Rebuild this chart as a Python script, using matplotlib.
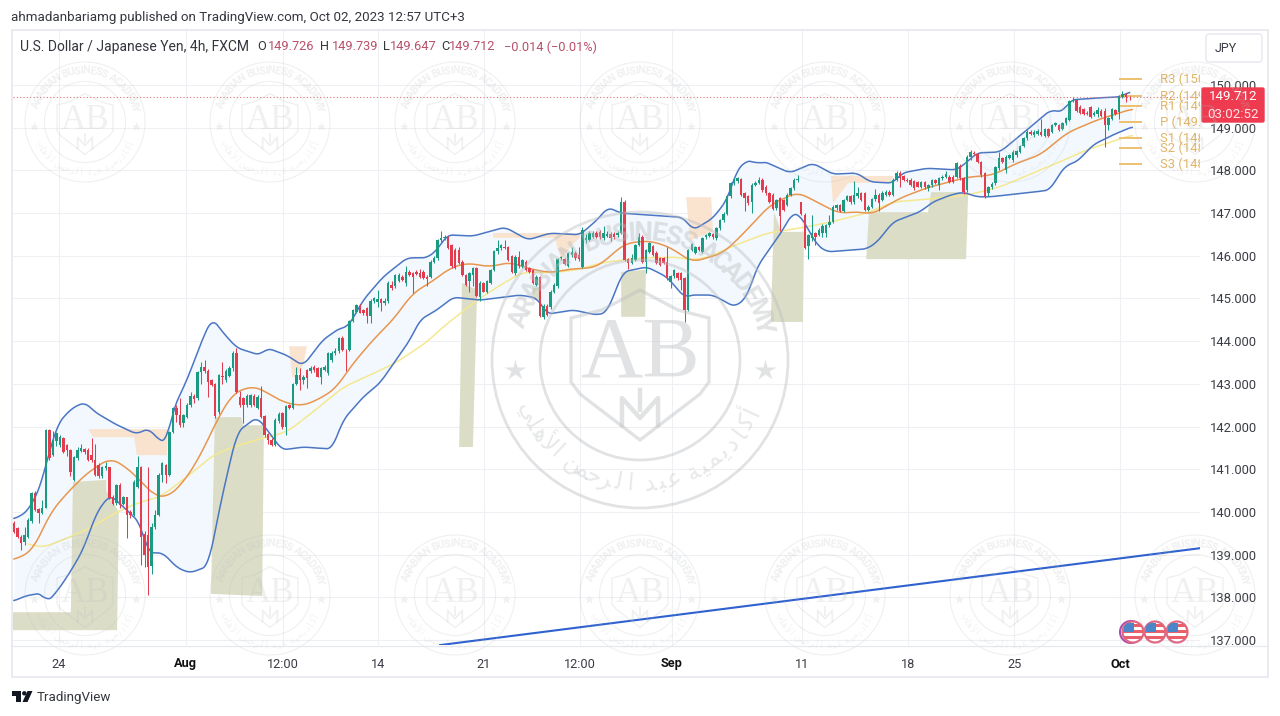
import numpy as np
import matplotlib
matplotlib.use("Agg")
import matplotlib.pyplot as plt
from matplotlib.patches import Circle, Polygon, Rectangle, FancyBboxPatch

plt.rcParams['font.family'] = ['Roboto', 'DejaVu Sans']

# ---------- DATA (bar index on x, USD/JPY price on y); candles are (open, high, low, close) ----------
candles_late_july = [
 (139.73,139.78,139.50,139.54),(139.62,139.65,139.40,139.42),(139.42,139.45,139.11,139.26),(139.30,139.65,139.22,139.46),
 (139.42,139.85,139.38,139.81),(139.78,140.47,139.75,140.45),(140.45,140.48,140.02,140.04),(140.06,140.08,139.73,139.97),
 (139.97,140.28,139.95,140.08),(140.10,141.95,140.08,141.92),(141.92,141.94,141.22,141.26),(141.33,141.90,141.30,141.68),
 (141.65,141.88,141.55,141.84),(141.57,141.80,141.52,141.76),(141.72,141.76,141.38,141.41),(141.57,141.60,141.30,141.45),
 (141.45,141.48,140.85,140.94),(140.75,141.32,140.72,141.29),(141.26,141.53,141.22,141.45),(141.43,141.60,141.40,141.49),
 (141.47,141.50,141.35,141.41),(141.45,141.50,141.20,141.22),(141.33,141.72,141.18,141.22),(141.22,141.60,140.85,140.87),
 (141.10,141.15,140.80,140.84),(140.84,141.08,140.80,141.06),(141.02,141.17,140.98,141.07),(141.04,141.06,140.30,140.32),
 (140.36,140.40,140.15,140.19),(140.20,140.66,140.17,140.63),(140.63,140.68,140.10,140.16),(140.19,140.38,140.15,140.34),
 (140.34,140.36,139.38,139.93),(140.00,140.05,139.85,139.93),(139.93,140.74,139.90,140.71),(140.59,141.31,140.55,141.06),
 (141.06,141.08,138.75,139.42),(139.48,139.55,138.72,139.00),(139.46,141.04,138.05,138.72),(138.73,139.75,138.55,139.65),
 (139.65,140.05,139.60,139.93),(139.93,140.90,139.90,140.87),(140.87,141.16,140.70,141.14),(141.10,141.12,140.68,140.87),
 (140.87,141.90,140.85,141.88),(141.88,142.45,141.85,142.43),
]
candles_early_august = [
 (142.43,142.50,142.10,142.27),(142.27,142.66,142.00,142.04),(142.08,142.30,142.00,142.27),(142.23,142.55,142.20,142.50),
 (142.50,142.82,142.45,142.72),(142.72,142.75,142.55,142.64),(142.66,143.30,142.62,143.27),(143.27,143.50,143.00,143.40),
 (143.40,143.55,143.25,143.31),(143.31,143.35,142.70,143.05),(143.09,143.12,142.95,142.98),(142.99,143.02,142.20,142.25),
 (142.33,143.24,142.30,143.21),(143.19,143.50,143.00,143.16),(143.09,143.35,143.05,143.29),(143.19,143.42,143.15,143.37),
 (143.37,143.78,143.30,143.72),(143.72,143.85,142.78,142.82),(142.70,142.83,142.45,142.51),(142.66,142.70,142.08,142.51),
 (142.51,142.75,142.45,142.72),(142.51,142.77,142.45,142.74),(142.72,142.75,142.48,142.51),(142.43,142.73,142.40,142.70),
 (142.66,142.94,142.20,142.23),(142.25,142.27,141.75,141.80),(141.83,141.85,141.60,141.69),(141.69,141.72,141.55,141.57),
 (141.57,142.20,141.55,142.16),(142.12,142.33,142.08,142.30),(142.31,142.34,141.95,141.98),(142.00,142.50,141.80,142.47),
 (142.50,142.52,142.40,142.43),(142.43,143.03,142.40,143.00),(143.00,143.40,142.98,143.21),(143.21,143.37,142.86,143.09),
 (143.09,143.20,143.00,143.15),(143.33,143.35,142.90,143.13),
]
candles_mid_august = [
 (143.29,143.42,143.25,143.37),(143.39,143.43,143.28,143.33),(143.37,143.40,143.15,143.17),(143.17,143.40,143.00,143.37),
 (143.33,143.45,143.30,143.40),(143.25,143.75,143.20,143.72),(143.56,143.76,143.50,143.72),(143.72,143.85,143.68,143.78),
 (143.76,144.10,143.72,144.07),(144.07,144.12,143.78,143.80),(143.78,143.82,143.30,143.76),(143.80,144.50,143.76,144.46),
 (144.46,144.76,144.44,144.73),(144.69,144.88,144.65,144.85),(144.83,144.86,144.65,144.67),(144.73,144.76,144.62,144.65),
 (144.77,144.80,144.43,144.58),(144.58,144.98,144.42,144.95),(144.93,145.04,144.90,145.00),(144.91,145.20,144.80,144.99),
 (144.98,145.00,144.70,144.90),(144.90,145.02,144.85,144.95),(144.93,145.40,144.90,145.36),(145.32,145.40,145.20,145.24),
 (145.28,145.58,145.25,145.55),
 (145.42,145.60,145.38,145.55),(145.51,145.55,145.40,145.43),(145.36,145.75,145.30,145.63),(145.63,145.66,145.52,145.55),
 (145.59,145.62,145.12,145.51),(145.63,145.66,145.55,145.58),(145.59,145.70,145.48,145.51),(145.63,145.66,145.45,145.47),
 (145.51,145.54,145.30,145.45),(145.51,145.89,145.48,145.86),(145.86,146.00,145.83,145.94),(145.94,146.40,145.90,146.37),
 (146.37,146.57,146.32,146.41),(146.41,146.48,146.38,146.45),(146.43,146.46,146.15,146.18),(146.25,146.28,145.72,145.75),
 (146.14,146.18,145.68,145.71),(146.14,146.20,145.80,145.82),(145.86,145.89,145.52,145.55),(145.55,145.58,145.28,145.32),
 (145.40,145.62,145.16,145.59),(145.55,145.74,145.30,145.71),(145.71,145.74,145.03,145.06),(145.04,145.40,144.93,145.36),
 (145.36,145.38,145.14,145.16),(145.16,145.43,145.13,145.40),(145.36,145.70,145.33,145.67),(145.67,146.13,145.64,146.10),
 (146.10,146.37,146.05,146.18),(146.18,146.28,146.14,146.25),(146.21,146.38,146.15,146.18),(146.21,146.24,145.88,145.90),
 (145.99,146.02,145.60,145.63),(145.59,146.01,145.56,145.98),(145.98,146.10,145.72,145.75),(145.75,145.93,145.72,145.90),
 (145.86,145.89,145.64,145.67),(145.71,145.74,145.60,145.63),(145.67,145.70,145.33,145.36),(145.32,145.55,145.28,145.51),
 (145.50,145.53,144.57,144.59),(144.57,144.86,144.52,144.83),(144.83,144.86,144.60,144.62),(144.79,145.19,144.76,145.16),
 (145.16,145.35,145.13,145.32),(145.28,145.95,145.25,145.92),
]
candles_late_august = [
 (145.94,146.00,145.90,145.96),(145.92,145.95,145.78,145.81),(145.76,146.09,145.73,146.06),(146.02,146.20,145.98,146.09),
 (146.06,146.10,145.90,145.94),(146.02,146.20,145.88,145.92),(145.73,146.68,145.72,146.60),(146.37,146.50,146.30,146.41),
 (146.38,146.57,146.35,146.54),(146.45,146.57,146.42,146.54),(146.54,146.57,146.42,146.45),(146.56,146.60,146.40,146.43),
 (146.41,146.70,146.38,146.54),(146.46,146.58,146.43,146.52),(146.52,146.55,146.35,146.41),(146.52,146.55,146.40,146.45),
 (146.49,146.58,146.45,146.54),(146.54,147.38,146.50,147.27),(147.27,147.30,145.87,145.90),(145.92,145.95,145.70,145.84),
 (145.84,146.05,145.80,145.94),(145.90,146.28,145.87,146.25),(146.25,146.53,146.22,146.45),(146.45,146.48,145.83,145.86),
 (145.86,146.16,145.59,146.13),(146.09,146.32,146.06,146.29),(146.23,146.26,146.00,146.02),(146.06,146.10,145.80,145.84),
 (145.94,145.97,145.75,145.78),(145.94,145.98,145.80,145.84),(145.86,146.21,145.44,145.47),(145.39,145.55,145.25,145.52),
 (145.52,145.70,145.49,145.66),(145.59,145.62,145.44,145.47),(145.60,145.63,145.20,145.43),(145.47,145.50,144.45,144.73),
 (144.73,146.16,144.70,146.13),(146.13,146.30,146.10,146.27),(146.06,146.24,146.03,146.21),(146.21,146.24,146.10,146.13),
 (146.09,146.44,146.06,146.41),
]
candles_september = [
 (146.43,146.52,146.40,146.49),(146.47,146.56,146.44,146.53),(146.51,146.54,146.40,146.43),(146.41,146.67,146.38,146.64),
 (146.64,146.87,146.60,146.84),(146.84,147.02,146.80,146.98),(146.98,147.42,146.95,147.39),(147.39,147.73,147.35,147.70),
 (147.70,147.82,147.66,147.78),(147.74,147.85,147.70,147.82),(147.79,147.82,147.40,147.43),(147.48,147.50,147.04,147.35),
 (147.40,147.43,147.20,147.23),(147.27,147.70,147.00,147.66),(147.66,147.75,147.63,147.71),(147.70,147.85,147.67,147.78),
 (147.78,147.81,147.50,147.54),(147.62,147.65,147.43,147.46),(147.46,147.49,147.24,147.27),(147.43,147.46,147.06,147.09),
 (147.11,147.34,147.08,147.31),(147.35,147.38,146.58,146.92),(147.31,147.34,147.04,147.07),(147.19,147.46,147.16,147.43),
 (147.43,147.61,147.40,147.58),(147.58,147.82,147.55,147.78),(147.78,147.88,147.72,147.80),(147.27,147.27,146.95,146.98),
 (146.96,146.99,146.15,146.18),(146.22,146.52,145.92,146.49),(146.41,146.96,146.35,146.53),(146.53,146.56,146.25,146.45),
 (146.49,146.64,146.46,146.61),(146.53,146.74,146.45,146.70),(146.53,146.75,146.45,146.72),(146.72,146.96,146.68,146.80),
 (146.80,147.18,146.77,147.15),(147.11,147.22,147.08,147.19),(147.19,147.22,147.02,147.05),(147.05,147.34,147.02,147.31),
 (147.31,147.42,147.28,147.39),(147.39,147.42,147.22,147.25),(147.25,147.74,147.22,147.43),(147.39,147.60,147.36,147.46),
 (147.46,147.49,147.28,147.31),(147.46,147.49,147.04,147.07),(147.07,147.18,147.04,147.15),(147.15,147.35,147.12,147.32),
 (147.32,147.56,147.29,147.43),(147.43,147.46,147.04,147.23),(147.31,147.51,147.28,147.48),(147.43,147.53,147.40,147.50),
 (147.50,147.53,147.40,147.43),(147.43,147.81,147.40,147.78),(147.78,147.98,147.75,147.95),(147.95,147.98,147.62,147.82),
 (147.86,147.90,147.75,147.78),(147.78,147.82,147.72,147.74),(147.78,147.81,147.63,147.66),(147.74,147.77,147.55,147.58),
 (147.73,147.76,147.60,147.62),(147.62,147.76,147.59,147.73),(147.73,147.76,147.57,147.60),(147.58,147.68,147.52,147.65),
 (147.65,147.80,147.62,147.77),(147.77,147.80,147.67,147.70),(147.65,147.84,147.55,147.81),(147.81,147.90,147.78,147.85),
 (147.85,147.98,147.82,147.91),
]
candles_last_week = [
 (147.85,147.88,147.70,147.73),(147.85,147.88,147.70,147.73),(147.85,148.20,147.82,148.17),(148.10,148.14,147.78,147.81),
 (147.81,147.84,147.45,147.50),(147.54,148.35,147.50,148.32),(148.32,148.47,148.25,148.44),(148.41,148.45,148.35,148.38),
 (148.38,148.41,148.17,148.20),(148.20,148.23,147.85,147.89),(147.93,147.96,147.35,147.37),(147.46,147.63,147.40,147.60),
 (147.60,147.72,147.56,147.68),(147.70,148.10,147.66,148.07),(148.05,148.44,148.00,148.28),(148.28,148.31,148.17,148.20),
 (148.00,148.35,147.95,148.32),(148.30,148.39,148.27,148.36),(148.24,148.47,148.20,148.44),(148.36,148.48,148.32,148.45),
 (148.44,148.60,148.40,148.57),(148.57,148.78,148.54,148.75),(148.75,148.94,148.72,148.91),(148.91,148.94,148.82,148.85),
 (148.83,148.95,148.78,148.91),(148.85,148.97,148.82,148.93),(148.91,149.20,148.80,148.83),(148.80,148.99,148.77,148.96),
 (148.96,148.99,148.77,148.80),(148.91,149.09,148.88,149.06),(149.06,149.14,149.03,149.10),(149.06,149.09,148.92,148.95),
 (148.98,149.13,148.95,149.10),(149.10,149.25,149.07,149.22),(149.18,149.66,149.15,149.63),(149.63,149.73,149.60,149.66),
 (149.65,149.68,149.37,149.40),(149.49,149.52,149.32,149.35),(149.43,149.46,149.29,149.32),(149.35,149.40,149.30,149.33),
 (149.48,149.51,149.23,149.26),(149.30,149.38,149.27,149.35),(149.33,149.48,149.25,149.41),(149.40,149.43,149.24,149.27),
 (149.40,149.45,148.55,149.06),(149.06,149.25,148.95,149.22),(149.20,149.46,149.17,149.43),(149.41,149.44,149.29,149.32),
 (149.37,149.76,149.20,149.73),(149.73,149.85,149.70,149.79),(149.79,149.82,149.60,149.73),(149.726,149.739,149.647,149.712),
]

upper_x = [0,3.7,7.4,9.3,12.5,16.4,20.1,22.9,28.6,34.8,38,41.4,43.3,45,49,53.3,56.1,59.8,63.2,69.7,71.7,77.3,81.9,87.5,92.4,94.6,98.9,104.5,111.3,117,119.8,122.7,130,139.1,145.6,151.8,160.3,165.2,168.3,171.7,189.5,192.4,198,202,204.8,207.1,209.1,210.5,212.2,219.8,226.3,232,238.8,242.5,249,251.6,258.6,267.1,270,272.8,279.3,287,293.5,297.2,299.2,307.6,313.3,316]
upper_y = [139.83,140.0,140.56,141.21,142.08,142.43,142.57,142.34,142.06,141.82,141.96,141.66,141.64,142.39,143.09,144.03,144.54,144.14,143.84,143.67,143.84,143.67,143.42,144.03,144.31,144.33,144.96,145.5,145.95,145.95,146.13,146.49,146.46,146.67,146.37,146.53,146.49,146.84,147.14,147.0,146.9,146.6,146.88,147.31,148.01,148.2,148.24,148.13,148.22,147.94,148.17,147.91,147.94,147.73,147.7,147.94,148.05,148.01,148.2,148.41,148.43,148.95,149.41,149.37,149.65,149.7,149.72,149.84]
lower_x = [0,3.1,7.9,9.3,12.5,15.9,19.5,23.5,27.2,32,35.7,38,42.2,46.2,49.9,55,58.9,63.2,68.8,71.1,75.9,81.9,90.1,93.2,98.9,103.7,112.2,115,119.8,124.4,132,143.3,148.2,151,158.4,165.2,168,172.5,179.3,185,190.1,191.5,198,204.2,207.6,210.5,217.8,220.4,222.7,227.5,230.3,241.6,244.5,249,256.7,260.3,265.2,268.8,272.8,276.5,288.7,293.5,296.3,298.3,301.1,305.7,311.3,316.7]
lower_y = [137.91,138.03,138.1,137.87,138.17,138.59,139.1,140.0,140.4,140.04,139.74,139.04,139.04,138.69,138.57,138.73,140.35,141.87,142.22,141.99,141.45,141.52,141.47,142.15,142.69,143.02,144.03,144.5,144.73,145.03,144.96,145.08,145.01,144.63,144.73,144.61,144.68,145.62,145.74,145.5,145.01,145.08,145.08,144.8,145.03,145.74,146.6,147.0,146.95,146.25,146.09,146.16,146.32,146.79,147.03,147.26,147.42,147.49,147.38,147.38,147.49,147.54,147.94,148.13,148.2,148.6,148.83,149.02]
fast_x = [0,5.4,10.2,15,20.7,27.2,30.9,34.8,39.4,43.3,47.9,52.7,57.5,62,67.7,70.5,76.2,81.9,87.5,91.5,95.2,101.7,107.4,113,117.8,123.5,128.3,134.8,140.5,145.3,151.8,157.5,163.2,166,171.7,173.7,180.2,185.8,192.1,200.8,205.7,214.2,221.8,226.3,233.4,240.5,242.5,251,258.6,270,277.3,284.1,290.7,298.3,306.8,316.7]
fast_y = [138.87,139.1,139.97,140.44,140.91,141.26,141.1,140.82,140.4,140.33,140.68,141.3,142.15,142.78,142.95,142.85,142.57,142.48,142.69,142.92,143.39,144.03,144.5,145.13,145.36,145.71,145.83,145.74,145.85,145.71,145.6,145.69,145.71,145.78,146.2,146.3,146.35,146.2,145.85,146.06,146.44,147.19,147.49,147.31,147.0,147.03,146.95,147.35,147.59,147.84,147.89,148.17,148.36,148.88,149.18,149.44]
slow_x = [4,7.4,13.9,21.5,29.2,35.7,41.4,49,56.4,62,70.5,77.3,84.7,93.2,102.8,108.5,117,121.5,131.2,137.7,144.2,151.8,159.5,166,172.5,177.3,188.7,190.7,196.3,202.8,213.3,222.7,230.3,241.6,249,256.7,270,279.3,288.7,296.3,303.9,316.7]
slow_y = [139.27,139.15,139.34,139.62,140.0,140.23,140.35,140.82,141.33,141.52,141.73,141.87,142.34,142.92,143.28,143.51,143.98,144.33,144.96,145.31,145.62,145.6,145.67,145.83,145.9,145.95,145.97,145.9,145.95,146.2,146.53,146.65,146.77,147.0,147.26,147.31,147.42,147.61,147.94,148.2,148.48,148.83]
trend_x = [120.7, 336.0]
trend_y = [136.88, 139.15]

demand_zones = [
 ([-0.3,16.1,16.7,26.1,26.1,29.7,29.2,-0.3],[137.65,137.65,140.7,140.75,140.5,140.0,137.23,137.23]),
 ([56.9,64.3,64.9,70.8,70.3,55.8],[142.22,142.22,142.03,142.03,138.03,138.08]),
 ([126.9,131.2,130.0,126.1],[145.36,145.2,141.52,141.52]),
 ([172.0,179.0,178.8,172.0],[145.62,145.67,144.57,144.57]),
 ([215.3,217.3,223.8,223.5,214.4],[147.02,146.56,146.56,144.45,144.45]),
 ([241.4,242.2,258.9,259.8,270.3,269.7],[145.92,147.02,147.02,147.49,147.49,145.92]),
 ([146.7,149.0,149.3,147.3],[145.25,145.25,144.96,144.96]),
]
supply_zones = [
 ([21,43.6,43.3,34.8,34,22.4],[141.94,141.94,141.33,141.33,141.75,141.75]),
 ([77.9,83,81.9,79.9,78.8],[143.88,143.88,143.44,143.16,143.16]),
 ([135.7,160.3,160.3,158,155,153.2,135.7],[146.53,146.53,146.42,146.25,145.9,146.42,146.42]),
 ([190.4,197.5,198,191.5],[147.37,147.37,146.56,146.37]),
 ([231.4,249,248.7,236.3,232],[147.87,147.87,147.73,147.7,147.23]),
]
pivot_names = ['R3','R2','R1','P','S1','S2','S3']
pivot_values = [150.14,149.74,149.51,149.13,148.76,148.52,148.15]
pivot_x = [313.3, 319.3]
pivot_label_x = 324.6
last_price = 149.712
price_ticks = [137,138,139,140,141,142,143,144,145,146,147,148,149,150]
time_ticks = [12.75,48.7,76.2,103.1,133.1,160.3,186.4,223.2,253.3,283.3,313.3]
time_labels = ['24','Aug','12:00','14','21','12:00','Sep','11','18','25','Oct']
bold_labels = {'Aug','Sep','Oct'}

candles = (candles_late_july + candles_early_august + candles_mid_august +
           candles_late_august + candles_september + candles_last_week)
opens, highs, lows, closes = (np.array(c) for c in zip(*candles))
bars = np.arange(len(candles))

def rounded(xs, ys, step=0.25, half=6):
    """Dense, softened path through the read values, for drawing only."""
    g = np.arange(xs[0], xs[-1] + step, step)
    v = np.interp(g, xs, ys)
    ker = np.ones(2*half + 1)/(2*half + 1)
    v = np.convolve(np.pad(v, half, mode='edge'), ker, mode='valid')
    return g, v

# ---------- STYLE ----------
GREEN, RED = '#1a9a80', '#e23c4e'
W, H = 1280, 716
fig = plt.figure(figsize=(W/100, H/100), dpi=100, facecolor='white')
ax = fig.add_axes([13/W, 1-645/H, (1200-13)/W, (645-30)/H])
ax.set_xlim(-0.283, 335.97)
ax.set_ylim(136.882, 151.288)
for s in ax.spines.values():
    s.set_visible(False)
ax.set_axisbelow(True)
ax.grid(True, color='#eef0f4', lw=0.8)
ax.yaxis.tick_right()
ax.set_yticks(price_ticks)
ax.set_yticklabels([f'{v:.3f}' for v in price_ticks], fontsize=9.4, color='#3a3d45')
ax.tick_params(axis='y', length=0, pad=7)
ax.set_xticks(time_ticks)
ax.set_xticklabels(time_labels, fontsize=9.2, color='#3a3d45')
ax.tick_params(axis='x', length=0, pad=9)
for t in ax.get_xticklabels():
    if t.get_text() in bold_labels:
        t.set_fontweight('bold'); t.set_color('#111111')

ux, uy = rounded(upper_x, upper_y)
lx, ly = rounded(lower_x, lower_y)
fx_, fy_ = rounded(fast_x, fast_y, half=10)
sx_, sy_ = rounded(slow_x, slow_y, half=10)
grid = np.linspace(0, 316.5, 1400)
ax.fill_between(grid, np.interp(grid, lx, ly), np.interp(grid, ux, uy),
                color='#f2f8fd', lw=0, zorder=1)
for zx, zy in demand_zones:
    ax.add_patch(Polygon(np.c_[zx, zy], closed=True, fc='#dadcc4', ec='none', alpha=0.95, zorder=1.5))
for zx, zy in supply_zones:
    ax.add_patch(Polygon(np.c_[zx, zy], closed=True, fc='#fae2cd', ec='none', alpha=0.95, zorder=1.5))

ax.plot(sx_, sy_, color='#f5e88f', lw=1.1, zorder=2)
ax.plot(fx_, fy_, color='#e8964f', lw=1.1, zorder=2.1)
ax.plot(ux, uy, color='#4a76c4', lw=1.1, zorder=2.2)
ax.plot(lx, ly, color='#4a76c4', lw=1.1, zorder=2.2)
ax.plot(trend_x, trend_y, color='#2f62cf', lw=1.5, zorder=2.2)
ax.axhline(last_price, color='#e0707e', lw=0.8, ls=(0, (1, 2)), zorder=2.3)

up = closes >= opens
colors = np.where(up, GREEN, RED)
ax.vlines(bars, lows, highs, colors=colors, lw=0.75, zorder=3)
ax.bar(bars, np.abs(closes-opens), bottom=np.minimum(opens, closes), width=0.7,
       color=colors, lw=0, zorder=3.1)

for name, val in zip(pivot_names, pivot_values):
    ax.plot(pivot_x, [val, val], color='#ecc06f', lw=1.4, zorder=2.5)
    ax.text(pivot_label_x, val, f'{name} ({val:.2f})', color='#e2b566', fontsize=9.4,
            va='center', ha='left', clip_on=True, zorder=2.5)

# ---------- PIXEL OVERLAY: frame, header, stamps, badges ----------
ov = fig.add_axes([0, 0, 1, 1], zorder=5)
ov.set_xlim(0, W); ov.set_ylim(H, 0); ov.axis('off'); ov.patch.set_visible(False)
ov.add_patch(Rectangle((12, 30), 1256, 647, fc='none', ec='#e6e8ee', lw=1.2))
ov.plot([12, 1268], [645.5, 645.5], color='#e6e8ee', lw=0.9)

WM = '#b9bcbe'
AR = 'ﺃﻛﺎﺩﻳﻤﻴﺔ ﻋﺒﺪ ﺍﻟﺮﺣﻤﻦ ﺍﻷﻫﻠﻲ'
NARROW = {'I': 0.55, ' ': 0.6, 'M': 1.25}
def arc_text(s, cx, cy, r, a0, a1, fs, top=True, family='Roboto', alpha=0.5, **kw):
    w = np.array([NARROW.get(c, 1.0) for c in s])
    pos = (np.cumsum(w) - w/2)/w.sum()
    for ch, f in zip(s, pos):
        a = a0 + (a1 - a0)*f
        rad = np.deg2rad(a)
        ov.text(cx + r*np.cos(rad), cy - r*np.sin(rad), ch, fontsize=fs, color=WM, alpha=alpha,
                rotation=(a-90) if top else (a+90), rotation_mode='anchor',
                ha='center', va='center', family=family, **kw)

def stamp(cx, cy, R, alpha):
    k = R/148
    lw = max(0.8, 2.0*k)
    ov.add_patch(Circle((cx, cy), R, fc='none', ec=WM, lw=lw, alpha=alpha))
    ov.add_patch(Circle((cx, cy), 100*k, fc='none', ec=WM, lw=lw, alpha=alpha))
    sh = np.array([(-69,-42),(-38,-50),(0,-70),(38,-50),(69,-42),(69,22),(60,34),(0,80),(-60,34),(-69,22)])*k
    ov.add_patch(Polygon(sh + [cx, cy], closed=True, fc='none', ec=WM, lw=lw*1.2, alpha=alpha))
    ov.text(cx, cy-4*k, 'AB', fontsize=62*k, family='Liberation Serif', color=WM, alpha=alpha,
            ha='center', va='center')
    em = np.array([(-18,65),(-18,38),(0,58),(18,38),(18,65)])*k + [cx, cy]
    ov.plot(em[:,0], em[:,1], color=WM, lw=lw*1.6, alpha=alpha)
    ov.plot([cx, cx], [cy+30*k, cy+50*k], color=WM, lw=lw*1.6, alpha=alpha)
    for sx in (-1, 1):
        ov.plot(cx + sx*125*k, cy + 10*k, marker='*', ms=16*k, color=WM, alpha=alpha, mec='none')
    arc_text('ARABIAN BUSINESS ACADEMY', cx, cy, 127*k, 164, 12, 19*k, top=True, alpha=alpha, fontweight='bold')
    arc_text(AR, cx, cy, 124*k, -22, -158, 17*k, top=False, family='DejaVu Sans', alpha=alpha*0.8)

for y0 in (122, 595):
    for x0 in (85, 270, 455, 640, 825, 1010, 1195):
        stamp(x0, y0, 60, 0.22)
stamp(640, 360, 148, 0.42)

# red last-price badge
ov.add_patch(FancyBboxPatch((1202, 88), 62, 34, boxstyle='round,pad=0,rounding_size=1.5', fc='#ee3b4f', ec='#ee3b4f', lw=1))
ov.text(1233, 97, '149.712', color='white', fontsize=9.6, ha='center', va='center')
ov.text(1233, 114, '03:02:52', color='#ffe3e6', fontsize=9.6, ha='center', va='center')

# JPY button
ov.add_patch(FancyBboxPatch((1206, 34), 56, 28, boxstyle='round,pad=0,rounding_size=3', fc='white', ec='#e6e8ee', lw=1))
ov.text(1226, 48, 'JPY', color='#3a3d45', fontsize=9, ha='center', va='center')

# header text
TXT = '#33363d'
ov.text(11, 17, 'ahmadanbariamg published on TradingView.com, Oct 02, 2023 12:57 UTC+3',
        fontsize=9.6, color=TXT, va='center', ha='left')
ov.text(20, 47, 'U.S. Dollar / Japanese Yen, 4h, FXCM', fontsize=10, color=TXT, va='center')
VAL = '#b9506a'
for x, s, c in [(257,'O',TXT),(268,'149.726',VAL),(320,'H',TXT),(332,'149.739',VAL),(383,'L',TXT),
                (390,'149.647',VAL),(441,'C',TXT),(449,'149.712',VAL),(504,'−0.014 (−0.01%)',VAL)]:
    ov.text(x, 47, s, fontsize=9.2, color=c, va='center')

# footer logo and name
ov.add_patch(Polygon([(12,691),(21,691),(21,702),(16,702),(16,696),(12,696)], closed=True, fc='#131722', ec='none'))
ov.add_patch(Circle((24.3,693.3), 2.2, fc='#131722', ec='none'))
ov.add_patch(Polygon([(27.5,691),(32.5,691),(27.5,702),(22.5,702)], closed=True, fc='#131722', ec='none'))
ov.text(37, 697, 'TradingView', fontsize=9.6, color='#33363d', va='center')

# event flags
ov.add_patch(Circle((1131, 632), 11, fc='white', ec='#a84fb0', lw=1.5, zorder=5.9))
for fx in (1133, 1155, 1177):
    disc = Circle((fx, 632), 10.5, fc='white', ec='#e06a86', lw=1.6, zorder=6)
    ov.add_patch(disc)
    for y_ in (630, 635.5, 624):
        r = Rectangle((fx-10, y_), 20, 3, fc='#e8606a', ec='none', zorder=6.1); ov.add_patch(r); r.set_clip_path(disc)
    r2 = Rectangle((fx-9, 623), 10, 9, fc='#4a86c8', ec='none', zorder=6.2); ov.add_patch(r2); r2.set_clip_path(disc)

fig.savefig('out.png', dpi=100, facecolor='white')
